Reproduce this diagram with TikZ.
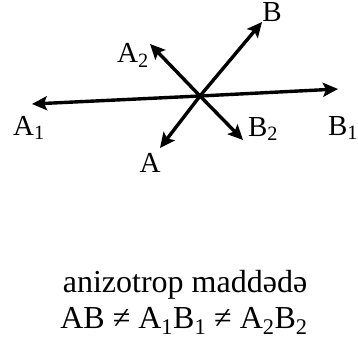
\documentclass[tikz,border=0pt]{standalone}
\usepackage{fontspec}
\setmainfont{Liberation Serif}
\usetikzlibrary{arrows.meta}

\begin{document}
\begin{tikzpicture}[x=1pt,y=1pt,
  vec/.style={line width=3.4pt,-{Stealth[length=15pt,width=14pt,inset=3pt]}},
  lbl/.style={font=\fontsize{29}{34}\selectfont,inner sep=0pt},
  txt/.style={font=\fontsize{32}{38}\selectfont,inner sep=0pt,anchor=base}]
  \useasboundingbox (0,0) rectangle (358,340);
  \coordinate (O) at (200,244);
  \coordinate (A1) at (32,236);
  \coordinate (B1) at (338,251);
  \coordinate (A) at (160,192);
  \coordinate (B) at (262,318);
  \coordinate (A2) at (150,296);
  \coordinate (B2) at (243,200);
  \draw[vec] (O) -- (A1);
  \draw[vec] (O) -- (B1);
  \draw[vec] (O) -- (A);
  \draw[vec] (O) -- (B);
  \draw[vec] (O) -- (A2);
  \draw[vec] (O) -- (B2);
  \node[lbl] (lA1) at (29,212) {A\textsubscript{1}};
  \node[lbl] (lB1) at (343,212) {B\textsubscript{1}};
  \node[lbl] (lA) at (150,177) {A};
  \node[lbl] (lB) at (272,328) {B};
  \node[lbl] (lA2) at (133,285) {A\textsubscript{2}};
  \node[lbl] (lB2) at (263,211) {B\textsubscript{2}};
  \node[txt] (t1) at (185,48) {anizotrop maddədə};
  \node[txt] (t2) at (184,12) {AB ≠ A\textsubscript{1}B\textsubscript{1} ≠ A\textsubscript{2}B\textsubscript{2}};
\end{tikzpicture}
\end{document}
